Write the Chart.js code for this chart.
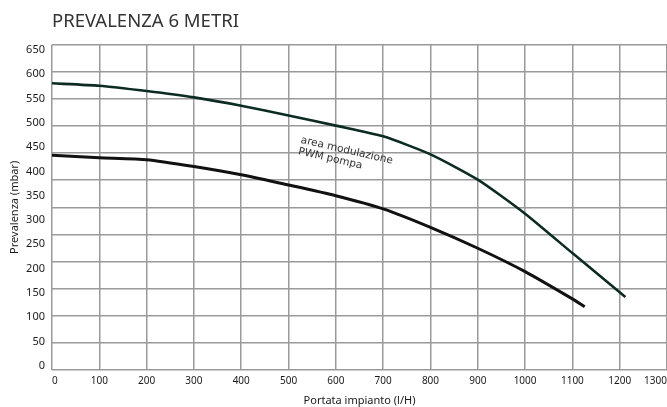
<!DOCTYPE html>
<html lang="it">
<head>
<meta charset="utf-8">
<title>Prevalenza 6 metri</title>
<script src="https://cdn.jsdelivr.net/npm/chart.js@4"></script>
<style>
    html, body { margin: 0; padding: 0; background: #fff; }
    #chart { display: block; }
</style>
</head>
<body>
<canvas id="chart" width="667" height="407"></canvas>
<script>
// --- DATA ---
const flowHigh = [0, 100, 200, 300, 400, 500, 600, 700, 800, 900, 1000, 1100, 1212];
const headHigh = [581, 576, 565, 552, 535, 515, 494, 472, 435, 383, 313, 232, 142];
const flowLow = [0, 100, 200, 300, 400, 500, 600, 700, 800, 900, 1000, 1100, 1126];
const headLow = [433, 428, 424, 410, 393, 372, 350, 323, 285, 242, 194, 138, 122];

const xTicks = [0, 100, 200, 300, 400, 500, 600, 700, 800, 900, 1000, 1100, 1200, 1300];
const yTicks = [0, 50, 100, 150, 200, 250, 300, 350, 400, 450, 500, 550, 600, 650];
const noteLines = ['area modulazione', 'PWM pompa'];

// --- STYLE ---
const gridColor = '#9a9a9a';
const textColor = '#1a1a1a';
const fontFamily = '"Noto Sans", "Open Sans", sans-serif';
// the printed grid has 12 rows while the labels step by 50 (13 steps)
const gridRows = 12;
const labelAxisMin = -8.2;
const labelAxisMax = 660.3;
const noteAt = { x: 525, y: 459 };
const noteAngle = 13;

// --- HELPERS ---
const toPoints = (xs, ys) => xs.map((x, i) => ({ x: x, y: ys[i] }));
const plainLabel = v => String(v);

const noteLabel = {
    id: 'noteLabel',
    afterDatasetsDraw(chart) {
        const { ctx, scales } = chart;
        const px = scales.x.getPixelForValue(noteAt.x);
        const py = scales.y.getPixelForValue(noteAt.y);
        ctx.save();
        ctx.translate(px, py);
        ctx.rotate(noteAngle * Math.PI / 180);
        ctx.font = '10.5px "DejaVu Sans", sans-serif';
        ctx.fillStyle = '#333';
        ctx.textAlign = 'left';
        ctx.textBaseline = 'alphabetic';
        noteLines.forEach((line, i) => ctx.fillText(line, 0, i * 11.7));
        ctx.restore();
    }
};

// --- CHART ---
const ctx = document.getElementById('chart').getContext('2d');
new Chart(ctx, {
    type: 'line',
    data: {
        datasets: [
            {
                label: 'PWM max',
                data: toPoints(flowHigh, headHigh),
                borderColor: '#0c2b23',
                borderWidth: 2.6,
                pointRadius: 0,
                tension: 0.2,
                yAxisID: 'y'
            },
            {
                label: 'PWM min',
                data: toPoints(flowLow, headLow),
                borderColor: '#111111',
                borderWidth: 3,
                pointRadius: 0,
                tension: 0.2,
                yAxisID: 'y'
            }
        ]
    },
    options: {
        responsive: false,
        animation: false,
        layout: { padding: 0 },
        plugins: {
            legend: { display: false },
            tooltip: { enabled: false },
            title: {
                display: true,
                text: 'PREVALENZA 6 METRI',
                align: 'start',
                fullSize: false,
                color: '#333',
                font: { family: fontFamily, size: 18.5, weight: 'normal' },
                padding: { top: 11, bottom: 11.5 }
            }
        },
        scales: {
            x: {
                type: 'linear',
                min: 0,
                max: 1300,
                afterBuildTicks: s => { s.ticks = xTicks.map(v => ({ value: v })); },
                afterFit: s => { s.height = 37; s.paddingLeft = 0; s.paddingRight = 0; },
                grid: { color: gridColor, lineWidth: 1.5, drawTicks: false },
                border: { display: false },
                ticks: {
                    align: 'inner',
                    padding: 5,
                    color: textColor,
                    font: { family: fontFamily, size: 10 },
                    callback: plainLabel
                },
                title: {
                    display: true,
                    text: 'Portata impianto (l/H)',
                    color: textColor,
                    font: { family: fontFamily, size: 11 },
                    padding: 0
                }
            },
            y: {
                type: 'linear',
                position: 'left',
                weight: 1,
                min: labelAxisMin,
                max: labelAxisMax,
                afterBuildTicks: s => { s.ticks = yTicks.map(v => ({ value: v })); },
                afterFit: s => { s.width = 52; },
                grid: { display: false, drawTicks: false },
                border: { display: false },
                ticks: {
                    padding: 7,
                    color: textColor,
                    font: { family: fontFamily, size: 11 },
                    callback: plainLabel
                },
                title: {
                    display: true,
                    text: 'Prevalenza (mbar)',
                    color: textColor,
                    font: { family: fontFamily, size: 11 },
                    padding: { top: 8.4, bottom: 0 }
                }
            },
            yGrid: {
                type: 'linear',
                position: 'left',
                weight: 0,
                min: 0,
                max: 650,
                afterBuildTicks: s => {
                    s.ticks = Array.from({ length: gridRows + 1 }, (_, i) => ({ value: i * 650 / gridRows }));
                },
                afterFit: s => { s.width = 0; },
                grid: { color: gridColor, lineWidth: 1.5, drawTicks: false },
                border: { display: false },
                ticks: { display: false }
            }
        }
    },
    plugins: [noteLabel]
});
</script>
</body>
</html>
